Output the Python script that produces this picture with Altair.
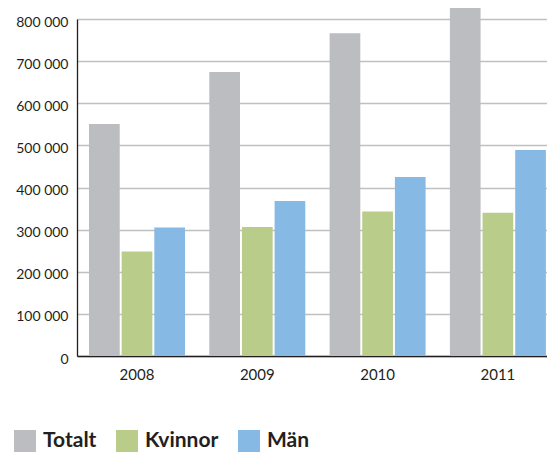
import altair as alt
import pandas as pd

years = ["2008", "2009", "2010", "2011"]
series = ["Totalt", "Kvinnor", "Män"]
totalt = [551000, 674000, 766000, 829000]
kvinnor = [248000, 306000, 343000, 340000]
man = [305000, 368000, 425000, 489000]
colors = ["#bcbdc0", "#b9cc89", "#86b9e4"]
y_ticks = [0, 100000, 200000, 300000, 400000, 500000, 600000, 700000, 800000]

rows = []
for i, yr in enumerate(years):
    for s, vals in zip(series, [totalt, kvinnor, man]):
        rows.append({"year": yr, "series": s, "value": vals[i]})
df = pd.DataFrame(rows)

FONT = "Lato"
INK = "#231f20"

chart = alt.Chart(df).mark_bar().encode(
    x=alt.X(
        "year:N",
        title=None,
        sort=years,
        scale=alt.Scale(paddingInner=0.202, paddingOuter=0.0545, align=0.916),
        axis=alt.Axis(
            labelAngle=0,
            labelFont=FONT,
            labelFontSize=15,
            labelColor=INK,
            labelPadding=11,
            ticks=False,
            domainColor=INK,
            domainWidth=1.3,
            grid=False,
        ),
    ),
    xOffset=alt.XOffset("series:N", sort=series, scale=alt.Scale(paddingInner=0.06)),
    y=alt.Y(
        "value:Q",
        title=None,
        scale=alt.Scale(domain=[0, 800000], nice=False),
        axis=alt.Axis(
            values=y_ticks,
            labelExpr="datum.value == 0 ? '0' : format(datum.value / 1000, 'd') + ' 000'",
            labelFont=FONT,
            labelFontSize=14,
            labelColor=INK,
            labelPadding=9,
            labelOffset=3,
            ticks=False,
            domainColor=INK,
            domainWidth=1.3,
            gridColor="#c0c0c0",
            gridWidth=1.4,
        ),
    ),
    color=alt.Color(
        "series:N",
        sort=series,
        scale=alt.Scale(domain=series, range=colors),
        legend=alt.Legend(
            title=None,
            orient="none",
            direction="horizontal",
            legendX=-63,
            legendY=411,
            symbolType="square",
            symbolSize=484,
            symbolStrokeWidth=0,
            labelFont=FONT,
            labelFontSize=21,
            labelFontWeight="bold",
            labelColor=INK,
            labelOffset=7,
            columnPadding=19,
            padding=0,
        ),
    ),
).properties(
    width=470,
    height=337,
    autosize=alt.AutoSizeParams(type="none"),
    padding={"left": 69, "top": 11, "right": 0, "bottom": 96},
).configure_view(stroke=None)

chart.save("out.html", embed_options={"renderer": "svg", "actions": False})
